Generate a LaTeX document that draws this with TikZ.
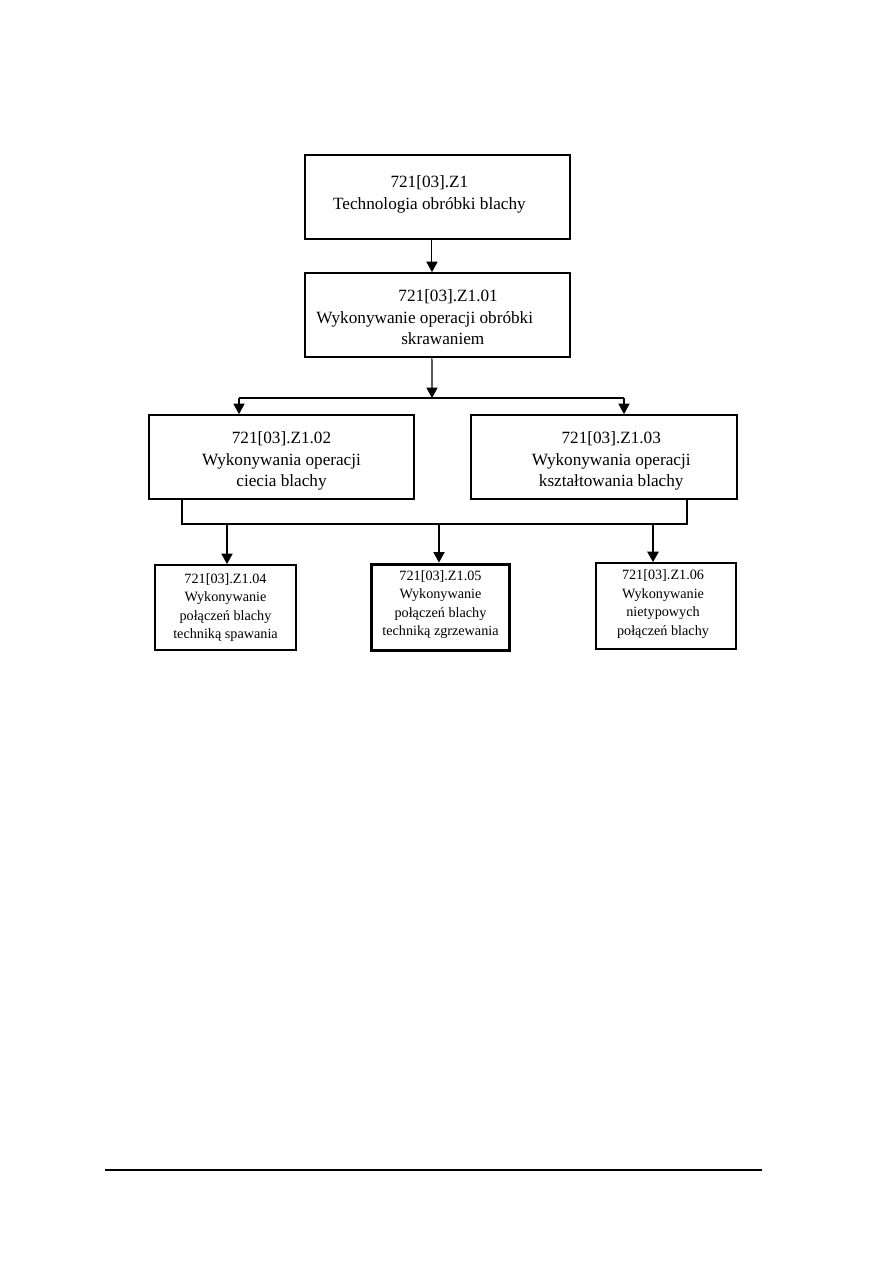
\documentclass[tikz,border=0pt]{standalone}
\usepackage{fontspec}
\setmainfont{Liberation Serif}
\usetikzlibrary{arrows.meta,positioning}

\begin{document}
\begin{tikzpicture}[
  x=0.023516cm, y=-0.023516cm,
  big/.style={draw,line width=1.2pt,minimum width=6.232cm,minimum height=1.975cm,inner sep=0pt},
  small/.style={draw,line width=1.2pt,minimum width=3.316cm,minimum height=2.0cm,inner sep=0pt},
  bigtxt/.style={align=center,font=\fontsize{11.5}{14.5}\selectfont,inner sep=0pt},
  smalltxt/.style={align=center,font=\fontsize{9.5}{12.3}\selectfont,inner sep=0pt},
  arr/.style={line width=0.7pt,-{Triangle[width=7.5pt,length=7pt]}}
]
  \useasboundingbox (0,0) rectangle (893,1263);

  % upper levels
  \node[big] (z1) at (437.5,197) {};
  \node[bigtxt,below=0.50cm of z1.north,xshift=-0.19cm] (z1t) {721[03].Z1\\Technologia obróbki blachy};
  \node[big] (z2) at (437.5,315) {};
  \node[bigtxt,below=0.40cm of z2.north] (z2t) {\hspace*{0.5cm}721[03].Z1.01\\Wykonywanie operacji obróbki\hspace*{0.6cm}\mbox{}\\\hspace*{0.25cm}skrawaniem};
  \node[big] (z3) at (281.5,457) {};
  \node[bigtxt,below=0.40cm of z3.north] (z3t) {721[03].Z1.02\\Wykonywania operacji\\ciecia blachy};
  \node[big,minimum width=6.255cm] (z4) at (604,457) {};
  \node[bigtxt,below=0.40cm of z4.north,xshift=0.17cm] (z4t) {721[03].Z1.03\\Wykonywania operacji\\kształtowania blachy};

  % lower level
  \node[small] (z5) at (225.5,607.5) {};
  \node[smalltxt,below=0.22cm of z5.north] (z5t) {721[03].Z1.04\\Wykonywanie\\połączeń blachy\\techniką spawania};
  \node[small,line width=2.6pt,minimum width=3.245cm,minimum height=2.022cm] (z6) at (440.5,607.5) {};
  \node[smalltxt,below=0.18cm of z6.north] (z6t) {721[03].Z1.05\\Wykonywanie\\połączeń blachy\\techniką zgrzewania};
  \node[small,minimum width=3.292cm,minimum height=2.022cm] (z7) at (666,606) {};
  \node[smalltxt,below=0.18cm of z7.north,xshift=-0.07cm] (z7t) {721[03].Z1.06\\Wykonywanie\\nietypowych\\połączeń blachy};

  % connectors
  \draw[arr] ([xshift=-0.13cm]z1.south) -- ([xshift=-0.13cm]z2.north);
  \coordinate (s1) at (432,398);
  \coordinate (sl) at (239,398);
  \coordinate (sr) at (624,398);
  \draw[arr] ([xshift=-0.13cm]z2.south) -- (s1);
  \draw[line width=0.7pt] (sl) -- (sr);
  \draw[arr] (sl) -- (sl |- z3.north);
  \draw[arr] (sr) -- (sr |- z4.north);

  \coordinate (bl) at (182,524);
  \coordinate (br) at (687,524);
  \draw[line width=0.7pt] (bl |- z3.south) -- (bl) -- (br) -- (br |- z4.south);
  \coordinate (b5) at (227,524);
  \coordinate (b6) at (439,524);
  \coordinate (b7) at (653,524);
  \draw[arr] (b5) -- (b5 |- z5.north);
  \draw[arr] (b6) -- (b6 |- z6.north);
  \draw[arr,line width=1.4pt] (b7) -- (b7 |- z7.north);

  % footer rule
  \draw[line width=0.8pt] (105,1170) -- (762,1170);
\end{tikzpicture}
\end{document}
